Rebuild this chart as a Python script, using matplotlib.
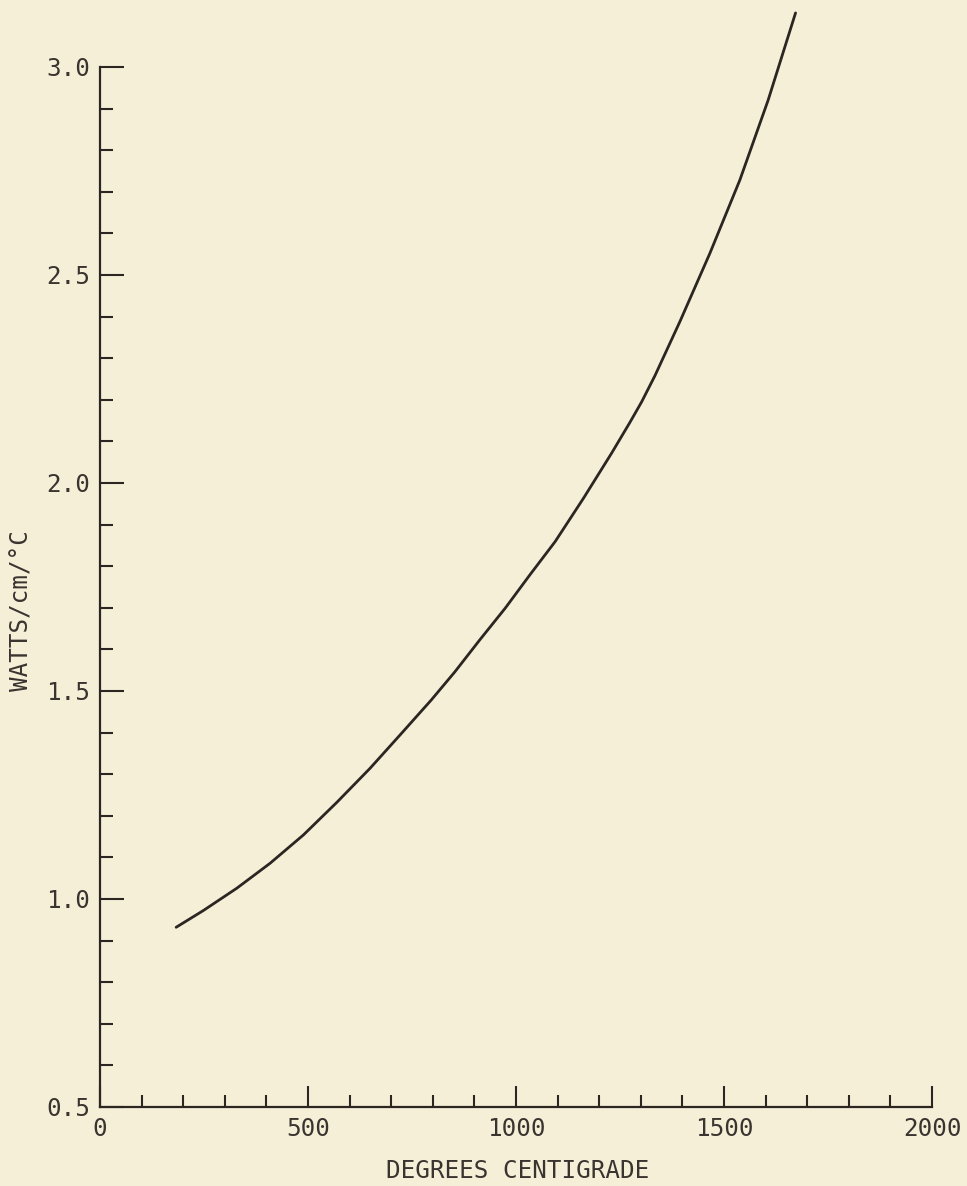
import matplotlib
matplotlib.use("Agg")
import matplotlib.pyplot as plt
from matplotlib.ticker import MultipleLocator, FixedLocator

# values
temp_c = [183, 248, 329, 409, 489, 569, 649, 721, 796, 853, 913, 974, 1034, 1094,
          1162, 1230, 1274, 1302, 1334, 1394, 1466, 1538, 1606, 1672]
watts = [0.932, 0.972, 1.026, 1.086, 1.154, 1.232, 1.314, 1.394, 1.478, 1.546, 1.623,
         1.699, 1.780, 1.859, 1.963, 2.072, 2.146, 2.195, 2.258, 2.388, 2.552, 2.728,
         2.920, 3.130]

x_ticks = [0, 500, 1000, 1500, 2000]
x_ticklabels = ["0", "500", "1000", "1500", "2000"]
y_ticks = [0.5, 1.0, 1.5, 2.0, 2.5, 3.0]
y_ticklabels = ["0.5", "1.0", "1.5", "2.0", "2.5", "3.0"]

bg = "#F6EFD8"
ink = "#2b2622"
text_ink = "#3a3430"
font = "DejaVu Sans Mono"

fig = plt.figure(figsize=(9.67, 11.86), dpi=100, facecolor=bg)
ax = fig.add_axes([100 / 967, 79 / 1186, 832 / 967, 1040 / 1186])
ax.set_facecolor(bg)

ax.plot(temp_c, watts, color=ink, lw=2.0, solid_capstyle="round",
        solid_joinstyle="round", clip_on=False)

ax.set_xlim(0, 2000)
ax.set_ylim(0.5, 3.0)
for side in ("top", "right"):
    ax.spines[side].set_visible(False)
for side in ("left", "bottom"):
    ax.spines[side].set_color(ink)
    ax.spines[side].set_linewidth(1.6)

ax.xaxis.set_major_locator(FixedLocator(x_ticks))
ax.xaxis.set_minor_locator(MultipleLocator(100))
ax.yaxis.set_major_locator(FixedLocator(y_ticks))
ax.yaxis.set_minor_locator(MultipleLocator(0.1))
ax.set_xticklabels(x_ticklabels)
ax.set_yticklabels(y_ticklabels)

ax.tick_params(axis="x", which="major", direction="in", length=15, width=1.5,
               color=ink, pad=7)
ax.tick_params(axis="x", which="minor", direction="in", length=8.5, width=1.5,
               color=ink)
ax.tick_params(axis="y", which="major", direction="in", length=17, width=1.5,
               color=ink, pad=7)
ax.tick_params(axis="y", which="minor", direction="in", length=9, width=1.5,
               color=ink)
for lab in ax.get_xticklabels() + ax.get_yticklabels():
    lab.set_fontfamily(font)
    lab.set_fontsize(17.5)
    lab.set_color(text_ink)

fig.text(518 / 967, 1 - 1171 / 1186, "DEGREES CENTIGRADE", family=font, fontsize=17.5,
         color=text_ink, ha="center", va="center")
fig.text(22 / 967, 1 - 611 / 1186, "WATTS/cm/°C", family=font, fontsize=17.5,
         color=text_ink, ha="center", va="center", rotation=90)

fig.savefig("out.png", dpi=100, facecolor=bg)
